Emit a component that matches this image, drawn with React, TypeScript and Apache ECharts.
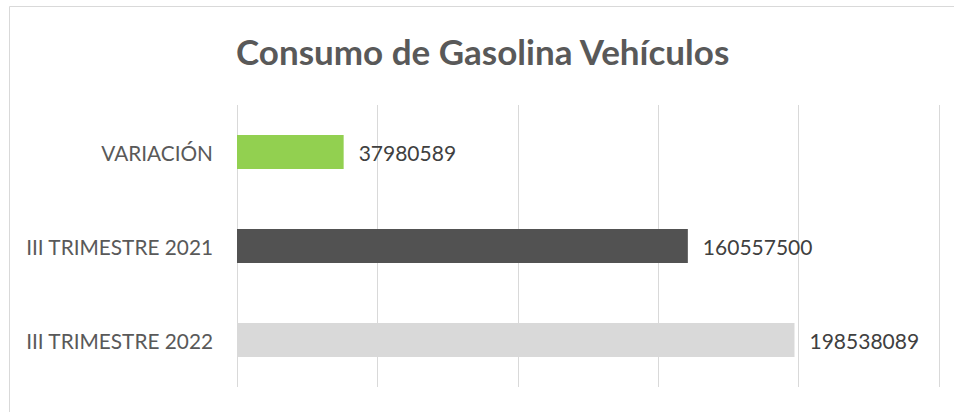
import React, { useEffect, useRef } from "react";
import * as echarts from "echarts";

const categories = ["III TRIMESTRE 2022", "III TRIMESTRE 2021", "VARIACIÓN"];
const values = [198538089, 160557500, 37980589];
const barColors = ["#d9d9d9", "#525252", "#92d050"];
const titleText = "Consumo de Gasolina Vehículos";
const axisMax = 250000000;
const axisInterval = 50000000;

export default function App() {
  const ref = useRef<HTMLDivElement>(null);
  useEffect(() => {
    if (!ref.current) return;
    const chart = echarts.init(ref.current, null, { renderer: "svg" });
    chart.setOption({
      animation: false,
      backgroundColor: "#ffffff",
      textStyle: { fontFamily: "Lato" },
      title: {
        text: titleText,
        left: 231,
        top: 28,
        textStyle: { fontFamily: "Lato", fontWeight: "bold", fontSize: 35, color: "#595959" },
      },
      graphic: [
        {
          type: "rect",
          shape: { x: 9.5, y: 6.5, width: 1000, height: 500 },
          style: { fill: "none", stroke: "#d9d9d9", lineWidth: 1 },
          silent: true,
          z: -1,
        },
      ],
      grid: { left: 237, right: 15, top: 105, bottom: 25, containLabel: false },
      xAxis: {
        type: "value",
        min: 0,
        max: axisMax,
        interval: axisInterval,
        axisLabel: { show: false },
        axisLine: { show: false },
        axisTick: { show: false },
        splitLine: { show: true, lineStyle: { color: "#d9d9d9", width: 1 } },
      },
      yAxis: {
        type: "category",
        data: categories,
        axisLine: { show: false },
        axisTick: { show: false },
        axisLabel: { margin: 24, fontFamily: "Lato", fontSize: 20.8, color: "#595959" },
      },
      series: [
        {
          type: "bar",
          barWidth: 34,
          data: values.map((v, i) => ({ value: v, itemStyle: { color: barColors[i] } })),
          label: {
            show: true,
            position: "right",
            distance: 15,
            fontFamily: "Lato",
            fontSize: 21,
            color: "#404040",
          },
        },
      ],
    });
    return () => chart.dispose();
  }, []);
  return (
    <div
      ref={ref}
      style={{ position: "absolute", left: 0, top: 0, width: 954, height: 412 }}
    />
  );
}
